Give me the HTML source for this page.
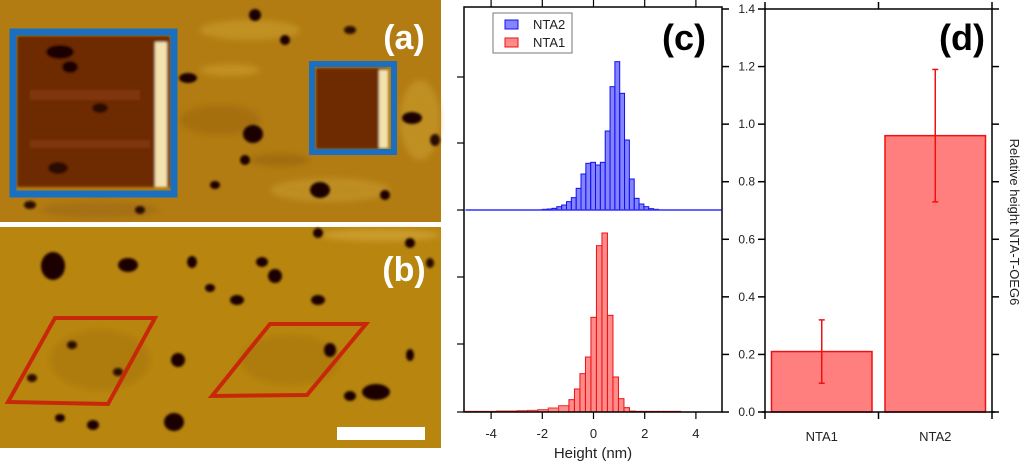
<!DOCTYPE html>
<html><head><meta charset="utf-8"><style>
html,body{margin:0;padding:0;background:#fff;}
svg{display:block;font-family:"Liberation Sans",sans-serif;}
</style></head><body>
<svg id="fig" width="1024" height="462" viewBox="0 0 1024 462">
  <defs>
    <filter id="blur1" x="-20%" y="-20%" width="140%" height="140%"><feGaussianBlur stdDeviation="1.2"/></filter>
    <filter id="blur3"><feGaussianBlur stdDeviation="3"/></filter>
  </defs>
  <g>
    <rect x="0" y="0" width="441" height="222" fill="#b27c12"/>
    <g filter="url(#blur3)" opacity="0.7">
      <ellipse cx="250" cy="30" rx="50" ry="10" fill="#c89a2a"/>
      <ellipse cx="330" cy="190" rx="60" ry="12" fill="#c4952a"/>
      <ellipse cx="220" cy="120" rx="40" ry="15" fill="#a06a10"/>
      <ellipse cx="420" cy="120" rx="20" ry="40" fill="#c6982c"/>
      <ellipse cx="100" cy="210" rx="60" ry="8" fill="#a06c12"/>
      <ellipse cx="230" cy="70" rx="30" ry="6" fill="#c9992c"/>
      <ellipse cx="280" cy="160" rx="30" ry="6" fill="#9a6610"/>
    </g>
    <g filter="url(#blur1)">
      <rect x="17" y="36" width="153" height="151" fill="#6e2a03"/>
      <rect x="316" y="68" width="72" height="81" fill="#6e2a03"/>
      <rect x="30" y="90" width="110" height="10" fill="#8a400a" opacity="0.6"/>
      <rect x="30" y="140" width="120" height="8" fill="#8a400a" opacity="0.6"/>
      <rect x="155" y="42" width="12" height="145" fill="#f3e2b0"/>
      <rect x="379" y="70" width="9" height="78" fill="#f3e2b0"/>
      <ellipse cx="60" cy="52" rx="14" ry="7" fill="#1a0500"/>
      <ellipse cx="70" cy="67" rx="8" ry="6" fill="#1a0500"/>
      <ellipse cx="100" cy="108" rx="8" ry="5" fill="#2a0a00"/>
      <ellipse cx="58" cy="168" rx="10" ry="6" fill="#2a0a00"/>
      <ellipse cx="253" cy="134" rx="10" ry="9" fill="#1a0500"/>
      <ellipse cx="255" cy="15" rx="6" ry="6" fill="#1a0500"/>
      <ellipse cx="320" cy="190" rx="10" ry="8" fill="#1a0500"/>
      <ellipse cx="412" cy="118" rx="10" ry="6" fill="#1a0500"/>
      <ellipse cx="188" cy="78" rx="9" ry="5" fill="#1a0500"/>
      <ellipse cx="285" cy="40" rx="5" ry="5" fill="#1a0500"/>
      <ellipse cx="385" cy="195" rx="5" ry="5" fill="#1a0500"/>
      <ellipse cx="245" cy="160" rx="5" ry="5" fill="#1a0500"/>
      <ellipse cx="215" cy="185" rx="5" ry="4" fill="#1a0500"/>
      <ellipse cx="30" cy="205" rx="6" ry="4" fill="#2a0a00"/>
      <ellipse cx="140" cy="210" rx="5" ry="4" fill="#2a0a00"/>
      <ellipse cx="350" cy="30" rx="6" ry="4" fill="#2a0a00"/>
      <ellipse cx="435" cy="140" rx="5" ry="6" fill="#2a0a00"/>
    </g>
    <rect x="13" y="32" width="161" height="162" fill="none" stroke="#1a6fc0" stroke-width="7"/>
    <rect x="312" y="64" width="82" height="88" fill="none" stroke="#1a6fc0" stroke-width="6"/>
    <text x="404" y="49" font-size="34" font-weight="bold" fill="#fff" text-anchor="middle">(a)</text>
  </g>
  <g>
    <rect x="0" y="227" width="441" height="221" fill="#b8860f"/>
    <g filter="url(#blur3)" opacity="0.6">
      <ellipse cx="380" cy="235" rx="60" ry="6" fill="#d6aa40"/>
      <ellipse cx="100" cy="360" rx="50" ry="30" fill="#a87410"/>
      <ellipse cx="290" cy="360" rx="50" ry="25" fill="#a87410"/>
    </g>
    <g filter="url(#blur1)">
      <ellipse cx="53" cy="266" rx="12" ry="14" fill="#1a0500"/>
      <ellipse cx="128" cy="265" rx="10" ry="7" fill="#1a0500"/>
      <ellipse cx="192" cy="262" rx="5" ry="6" fill="#1a0500"/>
      <ellipse cx="262" cy="262" rx="6" ry="5" fill="#1a0500"/>
      <ellipse cx="275" cy="276" rx="7" ry="7" fill="#1a0500"/>
      <ellipse cx="318" cy="233" rx="5" ry="5" fill="#1a0500"/>
      <ellipse cx="410" cy="243" rx="5" ry="5" fill="#1a0500"/>
      <ellipse cx="237" cy="300" rx="7" ry="5" fill="#1a0500"/>
      <ellipse cx="318" cy="300" rx="7" ry="5" fill="#1a0500"/>
      <ellipse cx="210" cy="288" rx="5" ry="4" fill="#1a0500"/>
      <ellipse cx="178" cy="360" rx="7" ry="7" fill="#1a0500"/>
      <ellipse cx="330" cy="350" rx="6" ry="7" fill="#1a0500"/>
      <ellipse cx="376" cy="392" rx="14" ry="8" fill="#1a0500"/>
      <ellipse cx="350" cy="396" rx="6" ry="5" fill="#1a0500"/>
      <ellipse cx="174" cy="422" rx="10" ry="9" fill="#1a0500"/>
      <ellipse cx="93" cy="425" rx="6" ry="5" fill="#1a0500"/>
      <ellipse cx="60" cy="418" rx="5" ry="4" fill="#1a0500"/>
      <ellipse cx="410" cy="355" rx="4" ry="6" fill="#1a0500"/>
      <ellipse cx="72" cy="345" rx="5" ry="4" fill="#2a0a00"/>
      <ellipse cx="118" cy="372" rx="5" ry="4" fill="#2a0a00"/>
      <ellipse cx="32" cy="378" rx="5" ry="4" fill="#2a0a00"/>
      <ellipse cx="430" cy="263" rx="4" ry="5" fill="#2a0a00"/>
    </g>
    <polygon points="8,402 55,318 155,318 108,404" fill="none" stroke="#c8280a" stroke-width="4"/>
    <polygon points="212,396 270,324 366,324 307,395" fill="none" stroke="#c8280a" stroke-width="4"/>
    <rect x="337" y="427" width="88" height="13" fill="#fff"/>
    <text x="404" y="281" font-size="34" font-weight="bold" fill="#fff" text-anchor="middle">(b)</text>
  </g>

  <g id="hist"></g>
  <g id="bars"></g>
</svg>
<script>
const blueBinStart = -2.0;
const blueBinWidth = 0.189;
const blueCounts = [2,3,5,10,15,25,37,65,108,140,143,135,143,237,370,445,350,210,93,35,18,10,4,2];
const redBinStart = -0.96;
const redBinWidth = 0.215;
const redCounts = [37,69,115,165,284,499,537,290,105,40,13];
const redTailLeftCounts = [2,2,2,3,3,4,5,7,12,19];
const redTailRightCounts = [3,2,2,2,2,2,2,2,2];
const histXTicks = [-4,-2,0,2,4];
const barCategories = ["NTA1","NTA2"];
const barValues = [0.21,0.96];
const barErrLow = [0.10,0.73];
const barErrHigh = [0.32,1.19];
const barYTicks = ["0.0","0.2","0.4","0.6","0.8","1.0","1.2","1.4"];

const NS = "http://www.w3.org/2000/svg";
function mk(parent, tag, attrs, text){
  const e = document.createElementNS(NS, tag);
  for (const k in attrs) e.setAttribute(k, attrs[k]);
  if (text !== undefined) e.textContent = text;
  parent.appendChild(e);
  return e;
}
const hx0 = 465.5, hx1 = 721.5, htop = 7, hmid = 210, hbot = 412;
const xH = v => hx0 + (v + 5) / 10 * (hx1 - hx0);
const countScale = 1/3;
const H = document.getElementById('hist');
function drawBins(counts, start, width, base, fill, stroke, name){
  counts.forEach((c, i) => {
    const x = xH(start + i * width), w = xH(start + (i + 1) * width) - x;
    const h = c * countScale;
    const r = mk(H, 'rect', {x: x, y: base - h, width: w, height: h, fill: fill, stroke: stroke, 'stroke-width': 1});
    
    
  });
}
drawBins(blueCounts, blueBinStart, blueBinWidth, hmid, 'rgba(80,80,255,0.7)', '#1010ee', 'nta2');
const tailW = (redBinStart - (-5)) / redTailLeftCounts.length;
drawBins(redTailLeftCounts, -5, tailW, hbot, 'rgba(255,90,90,0.7)', '#f03030', 'nta1-tail-left');
drawBins(redCounts, redBinStart, redBinWidth, hbot, 'rgba(255,90,90,0.7)', '#ee1010', 'nta1');
const rStart = redBinStart + redCounts.length * redBinWidth;
drawBins(redTailRightCounts, rStart, (3.4 - rStart) / redTailRightCounts.length, hbot, 'rgba(255,90,90,0.7)', '#f03030', 'nta1-tail-right');
const fr = mk(H, 'rect', {x: 464, y: htop, width: 258, height: hbot - htop, fill: 'none', stroke: '#000', 'stroke-width': 1.5});


const bl = mk(H, 'line', {x1: hx0, x2: hx1, y1: hmid, y2: hmid, stroke: '#3030ff', 'stroke-width': 1.5});


histXTicks.forEach(t => {
  const x = xH(t);
  mk(H, 'line', {x1: x, x2: x, y1: hbot, y2: hbot + 7, stroke: '#000', 'stroke-width': 1.2});
  mk(H, 'line', {x1: x, x2: x, y1: htop, y2: htop - 7, stroke: '#000', 'stroke-width': 1.2});
  const lab = mk(H, 'text', {x: x, y: 438, 'font-size': 13, 'text-anchor': 'middle', fill: '#222'}, String(t));
  
  
});
[77,143,210,277,344,412].forEach(y => mk(H, 'line', {x1: 457, x2: 464, y1: y, y2: y, stroke: '#000', 'stroke-width': 1.2}));
const xt = mk(H, 'text', {x: 593, y: 458, 'font-size': 15, 'text-anchor': 'middle', fill: '#222'}, 'Height (nm)');


const lg = mk(H, 'g', {});


mk(lg, 'rect', {x: 493, y: 13, width: 79, height: 40, fill: '#fff', stroke: '#777', 'stroke-width': 1});
mk(lg, 'rect', {x: 505, y: 20, width: 13, height: 9, fill: 'rgba(80,80,255,0.7)', stroke: '#1010ee'});
mk(lg, 'text', {x: 533, y: 29, 'font-size': 13, fill: '#222'}, 'NTA2');
mk(lg, 'rect', {x: 505, y: 38, width: 13, height: 9, fill: 'rgba(255,90,90,0.7)', stroke: '#ee1010'});
mk(lg, 'text', {x: 533, y: 47, 'font-size': 13, fill: '#222'}, 'NTA1');
const lc = mk(H, 'text', {x: 684, y: 50, 'font-size': 36, 'font-weight': 'bold', 'text-anchor': 'middle', fill: '#000'}, '(c)');



const B = document.getElementById('bars');
const bx0 = 765, bx1 = 992, by0 = 412, by1 = 9, ymax = 1.4;
const yB = v => by0 - v / ymax * (by0 - by1);
const bandW = (bx1 - bx0) / barCategories.length;
barCategories.forEach((c, i) => {
  const cx = bx0 + bandW * (i + 0.5);
  const bw = bandW - 13;
  const r = mk(B, 'rect', {x: cx - bw / 2, y: yB(barValues[i]), width: bw, height: by0 - yB(barValues[i]), fill: '#ff7f7f', stroke: '#f01010', 'stroke-width': 1.5});
  
  
  const eb = mk(B, 'g', {stroke: '#f01010', 'stroke-width': 1.5});
  
  
  mk(eb, 'line', {x1: cx, x2: cx, y1: yB(barErrLow[i]), y2: yB(barErrHigh[i])});
  mk(eb, 'line', {x1: cx - 3, x2: cx + 3, y1: yB(barErrLow[i]), y2: yB(barErrLow[i])});
  mk(eb, 'line', {x1: cx - 3, x2: cx + 3, y1: yB(barErrHigh[i]), y2: yB(barErrHigh[i])});
  const lab = mk(B, 'text', {x: cx, y: 441, 'font-size': 13, 'text-anchor': 'middle', fill: '#222'}, c);
  
  
});
const bf = mk(B, 'g', {stroke: '#000', 'stroke-width': 1.5, fill: 'none'});


mk(bf, 'line', {x1: bx0, x2: bx0, y1: by1, y2: by0});
mk(bf, 'line', {x1: bx1, x2: bx1, y1: by1, y2: by0});
mk(bf, 'line', {x1: bx0 - 3, x2: bx1 + 3, y1: by0, y2: by0});
mk(bf, 'line', {x1: bx0, x2: bx1, y1: by1, y2: by1});
[0, 1, 2].forEach(k => {
  const x = bx0 + bandW * k;
  mk(bf, 'line', {x1: x, x2: x, y1: by0, y2: by0 + 7});
  mk(bf, 'line', {x1: x, x2: x, y1: by1, y2: by1 - 7});
});
barYTicks.forEach(t => {
  const y = yB(parseFloat(t));
  mk(bf, 'line', {x1: bx0 - 7, x2: bx0, y1: y, y2: y});
  mk(bf, 'line', {x1: bx1, x2: bx1 + 7, y1: y, y2: y});
  mk(bf, 'line', {x1: 722, x2: 729, y1: y, y2: y});
  const l = mk(B, 'text', {x: 755, y: y + 4, 'font-size': 12, 'text-anchor': 'end', fill: '#222'}, t);
  
  
});
const yt = mk(B, 'text', {x: 1010, y: 222, 'font-size': 13, 'text-anchor': 'middle', fill: '#222', transform: 'rotate(90 1010 222)'}, 'Relative height NTA-T-OEG6');


const ld = mk(B, 'text', {x: 962, y: 50, 'font-size': 36, 'font-weight': 'bold', 'text-anchor': 'middle', fill: '#000'}, '(d)');


</script>
</body></html>
